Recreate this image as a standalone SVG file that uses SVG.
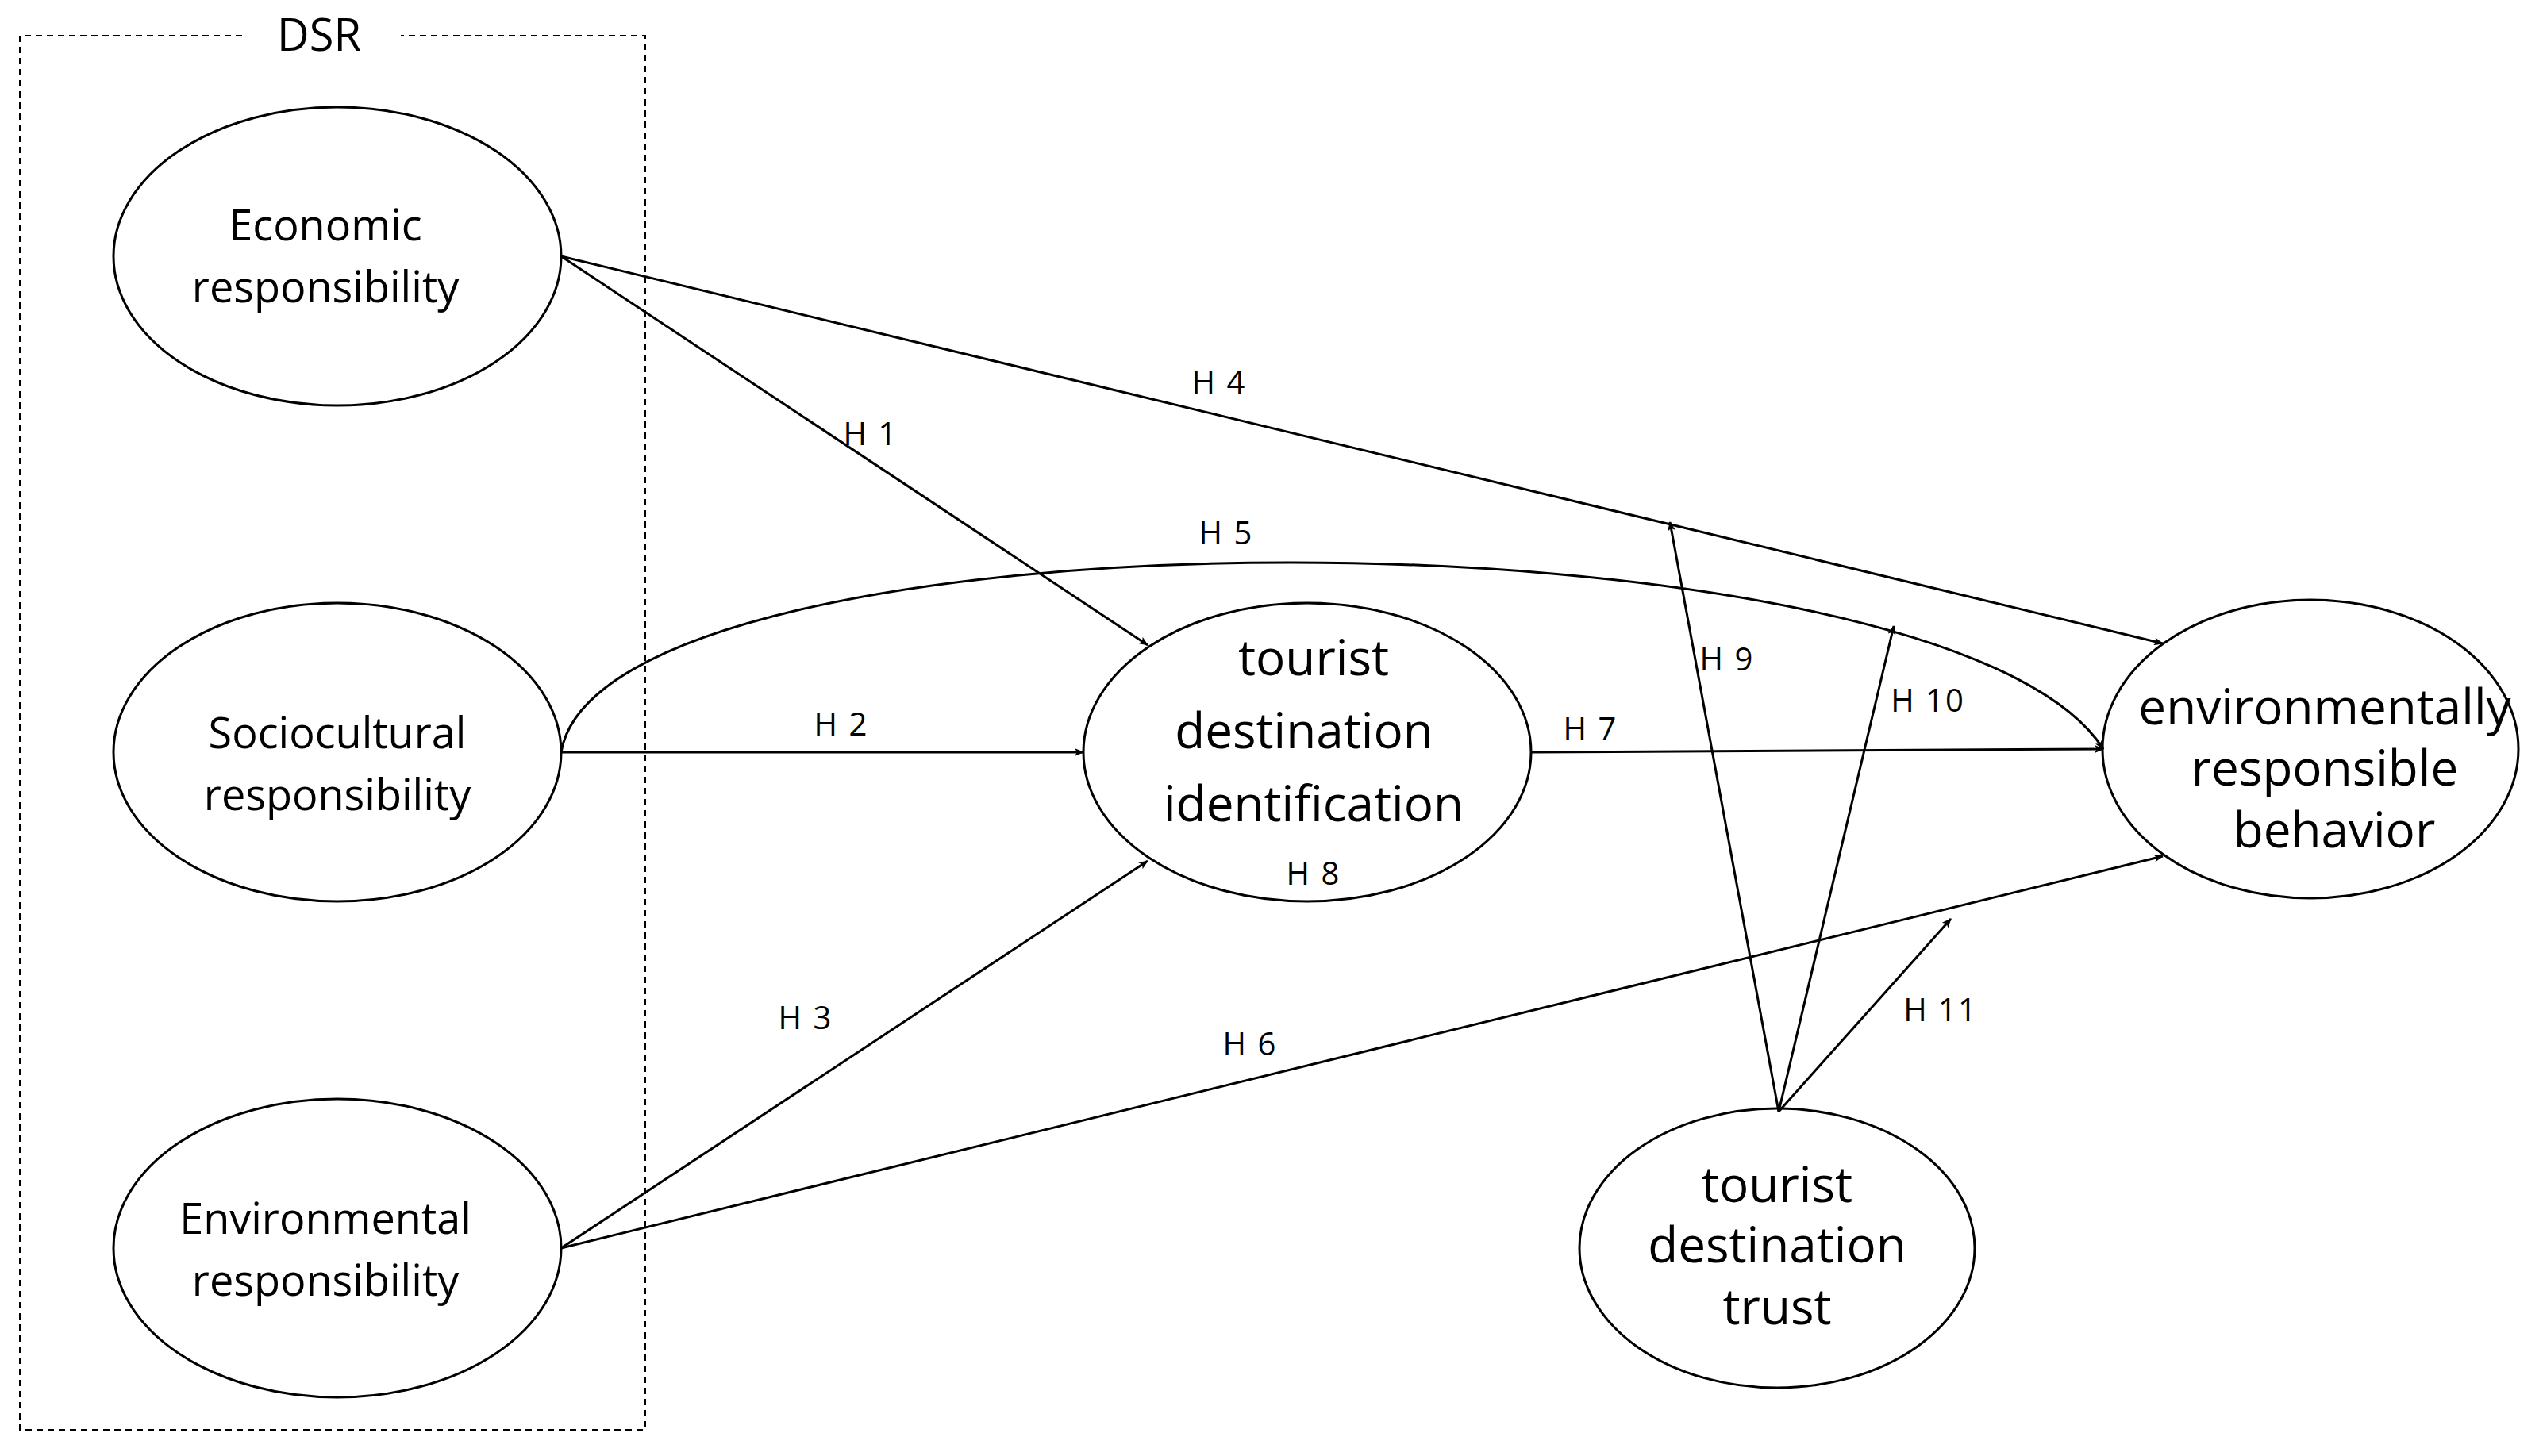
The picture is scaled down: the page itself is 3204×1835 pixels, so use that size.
<svg xmlns="http://www.w3.org/2000/svg" width="3204" height="1835" viewBox="0 0 3204 1835">
<style>
.n{fill:#fff;stroke:#000;stroke-width:3}
.t{font-family:"Open Sans","Liberation Sans",sans-serif;fill:#000;text-anchor:middle;dominant-baseline:central}
.s{font-size:54px}.b{font-size:62px}
.l{font-family:"Open Sans","Liberation Sans",sans-serif;font-size:40px;fill:#000;text-anchor:middle;dominant-baseline:central;letter-spacing:2px}
.c{fill:none;stroke:#000;stroke-width:3;marker-end:url(#a)}
</style>
<defs><marker id="a" markerWidth="12" markerHeight="10" refX="11" refY="5" orient="auto" markerUnits="userSpaceOnUse"><path d="M0,0 L12,5 L0,10 L3,5 Z" fill="#000"/></marker></defs>
<rect fill="#fff" width="3204" height="1835"/>
<g id="dsr"><path d="M305,45 H25 V1802 H813 V45 H505" fill="none" stroke="#000" stroke-width="2" stroke-dasharray="8,6"/><text class="t" x="402" y="42" font-size="56">DSR</text></g>
<g id="economic"><ellipse class="n" cx="425" cy="323" rx="282" ry="188"/><text class="t s" x="410" y="282">Economic</text><text class="t s" x="410" y="360">responsibility</text></g>
<g id="socio"><ellipse class="n" cx="425" cy="948" rx="282" ry="188"/><text class="t s" x="425" y="922">Sociocultural</text><text class="t s" x="425" y="1000">responsibility</text></g>
<g id="env"><ellipse class="n" cx="425" cy="1573" rx="282" ry="188"/><text class="t s" x="410" y="1534">Environmental</text><text class="t s" x="410" y="1612">responsibility</text></g>
<g id="tdi"><ellipse class="n" cx="1647" cy="948" rx="282" ry="188"/><text class="t b" x="1655" y="827">tourist</text><text class="t b" x="1643" y="919">destination</text><text class="t b" x="1655" y="1011">identification</text></g>
<g id="erb"><ellipse class="n" cx="2911" cy="944" rx="262" ry="188"/><text class="t b" x="2929" y="889">environmentally</text><text class="t b" x="2929" y="966">responsible</text><text class="t b" x="2941" y="1044">behavior</text></g>
<g id="trust"><ellipse class="n" cx="2239" cy="1573" rx="249" ry="176"/><text class="t b" x="2239" y="1491">tourist</text><text class="t b" x="2239" y="1567">destination</text><text class="t b" x="2239" y="1645">trust</text></g>
<g id="connectors">
<line class="c" x1="707" y1="323" x2="1446" y2="813"/>
<line class="c" x1="707" y1="323" x2="2725" y2="811"/>
<path class="c" d="M707,948 C760,630 2450,630 2650,944"/>
<line class="c" x1="707" y1="948" x2="1365" y2="948"/>
<line class="c" x1="1929" y1="948" x2="2650" y2="944"/>
<line class="c" x1="707" y1="1573" x2="1446" y2="1085"/>
<line class="c" x1="707" y1="1573" x2="2725" y2="1079"/>
<line class="c" x1="2241" y1="1401" x2="2104" y2="658"/>
<line class="c" x1="2241" y1="1401" x2="2386" y2="789"/>
<line class="c" x1="2241" y1="1401" x2="2458" y2="1158"/>
</g>
<g id="labels">
<text class="l" x="1097" y="545">H 1</text><text class="l" x="1536" y="480">H 4</text><text class="l" x="1545" y="670">H 5</text>
<text class="l" x="1060" y="911">H 2</text><text class="l" x="2004" y="917">H 7</text><text class="l" x="1655" y="1099">H 8</text>
<text class="l" x="1015" y="1281">H 3</text><text class="l" x="1575" y="1314">H 6</text><text class="l" x="2176" y="829">H 9</text>
<text class="l" x="2429" y="881">H 10</text><text class="l" x="2445" y="1271">H 11</text>
</g>
</svg>
